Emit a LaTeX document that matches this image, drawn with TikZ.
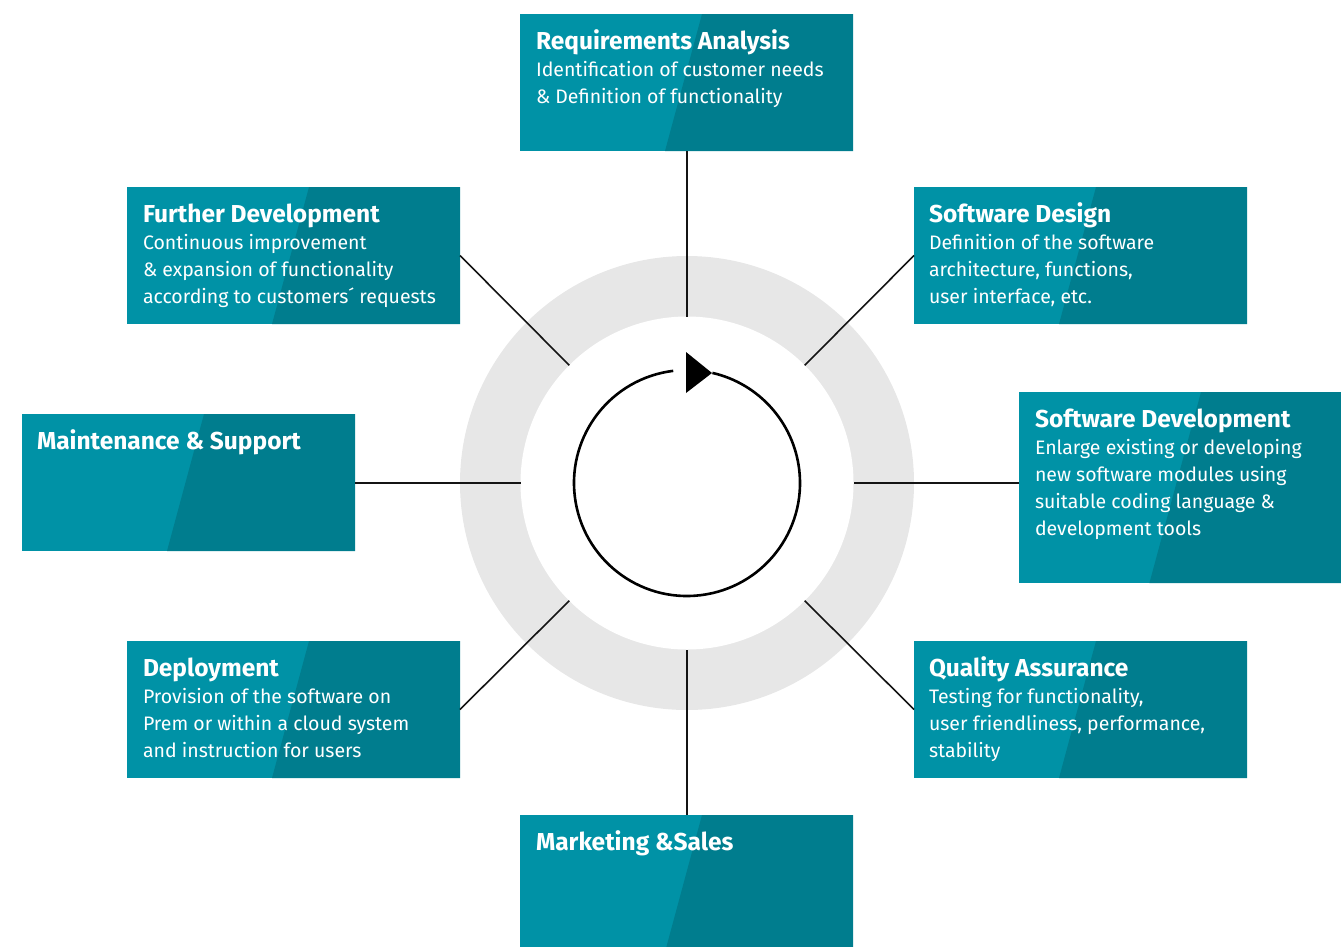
\documentclass[tikz,border=0pt]{standalone}
\usepackage{fontspec}
\setmainfont{Fira Sans}
\usetikzlibrary{calc}
\definecolor{tealA}{RGB}{0,146,166}
\definecolor{tealB}{RGB}{0,125,142}
\definecolor{ringgray}{RGB}{231,231,231}
\definecolor{linecol}{RGB}{20,20,20}
\newcommand{\cardtitle}[1]{{\bfseries\fontsize{24.5}{27}\selectfont #1}}
\begin{document}
\begin{tikzpicture}[x=1pt,y=-1pt,
  card/.style 2 args={rectangle, anchor=north west, inner sep=0pt, outer sep=0pt,
    minimum width=#1pt, minimum height=#2pt, fill=tealA,
    path picture={\fill[tealB] ([xshift=182pt]path picture bounding box.north west)
      -- (path picture bounding box.north east) -- (path picture bounding box.south east)
      -- ([xshift={(182-0.27*#2)*1pt}]path picture bounding box.south west) -- cycle;}},
  txt/.style={anchor=base west, inner sep=0pt, outer sep=0pt, text=white,
    font=\fontsize{19.5}{27}\selectfont},
  conn/.style={draw=linecol, line width=1.6pt},
  disc/.style={circle, inner sep=0pt, outer sep=0pt, minimum size=#1pt}
]
\useasboundingbox (0,0) rectangle (1341,946);

% ring
\node[disc=454, fill=ringgray] (ring) at (687,483) {};
\node[disc=333, fill=white] (inner) at (687,483) {};

% boxes
\node[card={333}{137}] (ra) at (520,14) {};
\node[card={333}{137}] (fd) at (127,187) {};
\node[card={333}{137}] (sd) at (914,187) {};
\node[card={333}{137}] (ms) at (22,414) {};
\node[card={322}{191}] (sdev) at (1019,392) {};
\node[card={333}{137}] (dep) at (127,641) {};
\node[card={333}{137}] (qa) at (914,641) {};
\node[card={333}{132}] (mk) at (520,815) {};

% texts
\node[txt] (ra-t) at ($(ra.north west)+(16,35)$) {\begin{tabular}[t]{@{}l@{}}\cardtitle{Requirements Analysis}\\Identification of customer needs\\\& Definition of functionality\end{tabular}};
\node[txt] (fd-t) at ($(fd.north west)+(16,35)$) {\begin{tabular}[t]{@{}l@{}}\cardtitle{Further Development}\\Continuous improvement\\\& expansion of functionality\\according to customers´ requests\end{tabular}};
\node[txt] (sd-t) at ($(sd.north west)+(15,35)$) {\begin{tabular}[t]{@{}l@{}}\cardtitle{Software Design}\\Definition of the software\\architecture, functions,\\user interface, etc.\end{tabular}};
\node[txt] (ms-t) at ($(ms.north west)+(15,35)$) {\begin{tabular}[t]{@{}l@{}}\cardtitle{Maintenance \& Support}\end{tabular}};
\node[txt] (sdev-t) at ($(sdev.north west)+(16,35)$) {\begin{tabular}[t]{@{}l@{}}\cardtitle{Software Development}\\Enlarge existing or developing\\new software modules using\\suitable coding language \&\\development tools\end{tabular}};
\node[txt] (dep-t) at ($(dep.north west)+(16,35)$) {\begin{tabular}[t]{@{}l@{}}\cardtitle{Deployment}\\Provision of the software on\\Prem or within a cloud system\\and instruction for users\end{tabular}};
\node[txt] (qa-t) at ($(qa.north west)+(15,35)$) {\begin{tabular}[t]{@{}l@{}}\cardtitle{Quality Assurance}\\Testing for functionality,\\user friendliness, performance,\\stability\end{tabular}};
\node[txt] (mk-t) at ($(mk.north west)+(16,35)$) {\begin{tabular}[t]{@{}l@{}}\cardtitle{Marketing \&Sales}\end{tabular}};

% connectors
\draw[conn] (ra.south -| inner.north) -- (inner.north);
\draw[conn] (mk.north -| inner.south) -- (inner.south);
\draw[conn] (ms.east |- inner.west) -- (inner.west);
\draw[conn] (sdev.west |- inner.east) -- (inner.east);
\draw[conn] (fd.east) -- (inner.135);
\draw[conn] (sd.west) -- (inner.45);
\draw[conn] (dep.east) -- (inner.225);
\draw[conn] (qa.west) -- (inner.315);

% cycle arrow
\coordinate (cc) at (687,483);
\draw[line width=2.6pt] ($(cc)+(263:113)$) arc[start angle=263, end angle=-77, radius=113];
\coordinate (tri-a) at (686,352);
\coordinate (tri-b) at (686,393);
\coordinate (tri-c) at (712,373);
\fill (tri-a) -- (tri-b) -- (tri-c) -- cycle;
\end{tikzpicture}
\end{document}
